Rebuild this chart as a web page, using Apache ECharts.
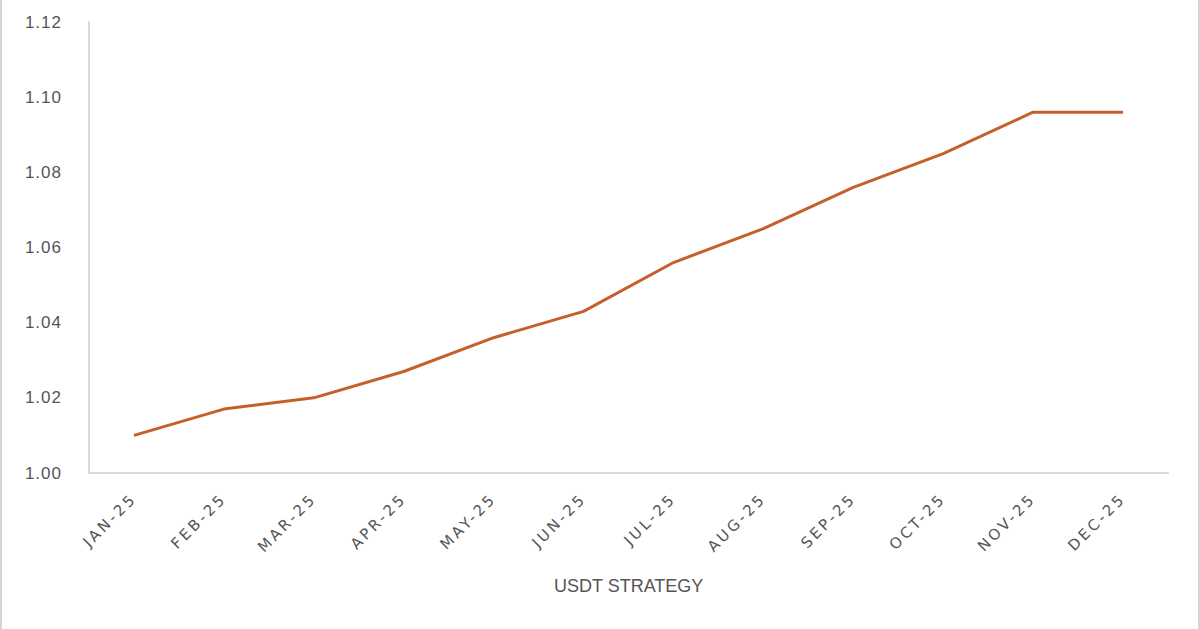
<!DOCTYPE html>
<html>
<head>
<meta charset="utf-8">
<script src="https://cdn.jsdelivr.net/npm/echarts@6/dist/echarts.min.js"></script>
<style>
html,body{margin:0;padding:0;background:#fff;}
#chart{width:1196px;height:629px;border-left:2px solid #d4d4d4;border-right:2px solid #d4d4d4;}
#chart svg text[style*="DejaVu"]{letter-spacing:3px;}
#chart svg text[style*="Liberation Serif"]{letter-spacing:1px;}
</style>
</head>
<body>
<div id="chart"></div>
<script>
const categories = ['JAN-25','FEB-25','MAR-25','APR-25','MAY-25','JUN-25','JUL-25','AUG-25','SEP-25','OCT-25','NOV-25','DEC-25'];
const seriesName = 'USDT STRATEGY';
const values = [1.010, 1.017, 1.020, 1.027, 1.036, 1.043, 1.056, 1.065, 1.076, 1.085, 1.096, 1.096];
const yTicks = { min: 1.00, max: 1.12, interval: 0.02 };

const chart = echarts.init(document.getElementById('chart'), null, { renderer: 'svg' });
chart.setOption({
  animation: false,
  backgroundColor: '#ffffff',
  grid: { left: 87, right: 30, top: 22, bottom: 156 },
  legend: {
    data: [seriesName],
    bottom: 29,
    left: 542,
    icon: 'rect',
    itemWidth: 0,
    itemHeight: 0,
    itemGap: 0,
    textStyle: { fontFamily: 'Liberation Sans, Arial, sans-serif', fontSize: 18, color: '#555555' }
  },
  xAxis: {
    type: 'category',
    data: categories,
    boundaryGap: true,
    axisLine: { lineStyle: { color: '#d9d9d9', width: 2 } },
    axisTick: { show: false },
    axisLabel: {
      rotate: 45,
      margin: 23,
      color: '#555555',
      fontSize: 15,
      fontFamily: 'DejaVu Sans, sans-serif'
    }
  },
  yAxis: {
    type: 'value',
    min: yTicks.min,
    max: yTicks.max,
    interval: yTicks.interval,
    axisLine: { show: true, lineStyle: { color: '#d9d9d9', width: 2 } },
    axisTick: { show: false },
    splitLine: { show: false },
    axisLabel: {
      margin: 27,
      color: '#555555',
      fontSize: 17,
      fontFamily: 'Liberation Sans, Liberation Serif, Arial, sans-serif',
      formatter: v => v.toFixed(2)
    }
  },
  series: [{
    name: seriesName,
    type: 'line',
    data: values,
    symbol: 'none',
    lineStyle: { color: '#C5602A', width: 3 },
    itemStyle: { color: '#C5602A' }
  }]
});
</script>
</body>
</html>
